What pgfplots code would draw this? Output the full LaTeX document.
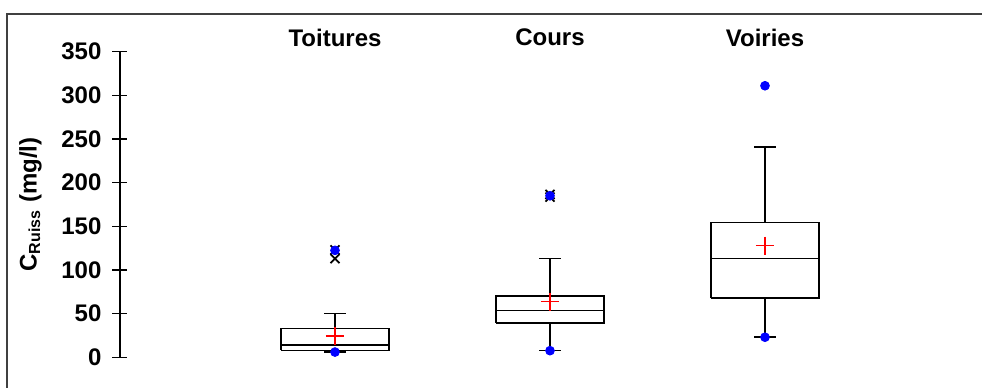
\documentclass[border=0pt]{standalone}
\usepackage{pgfplots}
\pgfplotsset{compat=1.18}
\usepackage{fontspec}
\setmainfont{Liberation Sans}
\definecolor{framegray}{RGB}{64,64,64}

\begin{document}
\begin{tikzpicture}
\begin{axis}[
    scale only axis,
    width=430pt, height=152.8pt,
    xmin=0, xmax=4, ymin=0, ymax=350,
    axis x line=none,
    axis y line*=left,
    ytick={0,50,100,150,200,250,300,350},
    yticklabels={0,50,100,150,200,250,300,350},
    tick align=center,
    major tick length=7.5pt,
    tick style={black, line width=0.6pt},
    y axis line style={black, line width=0.6pt},
    font=\large\bfseries,
    yticklabel style={xshift=-2pt},
    ylabel={C\textsubscript{Ruiss} (mg/l)},
    ylabel shift=3pt,
    clip=false,
    unbounded coords=jump,
    boxline/.style={black, line width=0.8pt, mark=none},
]
% Toitures: box, median, whiskers, caps
\addplot[boxline] coordinates {(0.75,8) (1.25,8) (1.25,33) (0.75,33) (0.75,8)
    (1,nan) (0.75,14) (1.25,14) (1,nan) (1,33) (1,50) (1,nan) (0.95,50) (1.05,50)
    (1,nan) (1,8) (1,6) (1,nan) (0.95,6) (1.05,6)};
% Cours
\addplot[boxline] coordinates {(1.75,39) (2.25,39) (2.25,70) (1.75,70) (1.75,39)
    (2,nan) (1.75,53.5) (2.25,53.5) (2,nan) (2,70) (2,113) (2,nan) (1.95,113) (2.05,113)
    (2,nan) (2,39) (2,7.6) (2,nan) (1.95,7.6) (2.05,7.6)};
% Voiries
\addplot[boxline] coordinates {(2.75,67.6) (3.25,67.6) (3.25,154.2) (2.75,154.2) (2.75,67.6)
    (3,nan) (2.75,113) (3.25,113) (3,nan) (3,154.2) (3,241) (3,nan) (2.95,241) (3.05,241)
    (3,nan) (3,67.6) (3,23) (3,nan) (2.95,23) (3.05,23)};
% outliers
\addplot[only marks, mark=x, mark size=3.2pt, black, line width=0.9pt]
    coordinates {(1,113) (1,123) (2,183.5) (2,186.5)};
% min / max
\addplot[only marks, mark=*, mark size=2.2pt, blue]
    coordinates {(1,6) (1,122.5) (2,7.6) (2,185) (3,23) (3,311)};
% means
\addplot[only marks, mark=+, mark size=4.5pt, red, line width=0.7pt]
    coordinates {(1,24.4) (2,63.7) (3,127.8)};
% category titles
\node at (axis cs:1,366) {Toitures};
\node at (axis cs:2,366) {Cours};
\node at (axis cs:3,366) {Voiries};
\end{axis}
\draw[framegray, line width=1pt] (-56.5pt,-30pt) -- (-56.5pt,171.65pt) -- (450pt,171.65pt);
% page = 982x387 px at 0.5pt per px
\pgfresetboundingbox
\useasboundingbox (-60pt,178.65pt) rectangle (431pt,-14.85pt);
\end{tikzpicture}
\end{document}
